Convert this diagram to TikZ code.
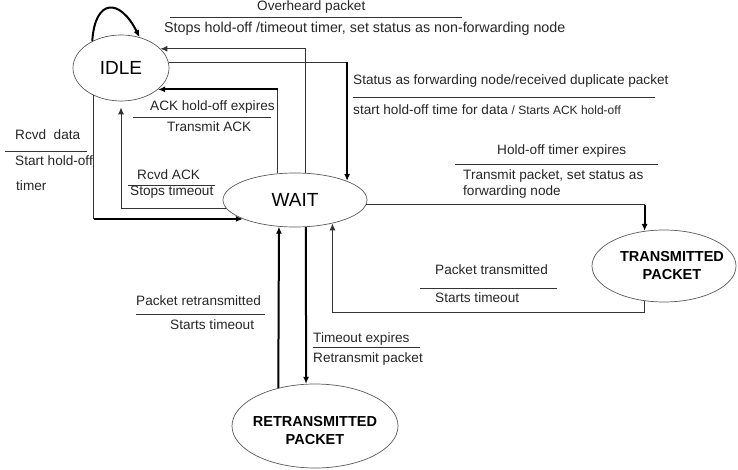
\documentclass[tikz,border=0pt]{standalone}
\usepackage{fontspec}
\setmainfont{Liberation Sans}
\usetikzlibrary{shapes.geometric,arrows.meta}

\tikzset{
  state/.style={draw=black!65, line width=0.7pt, ellipse, inner sep=0pt},
  statetext/.style={align=center, font=\bfseries\fontsize{14.5}{18}\selectfont},
  lbl/.style={anchor=mid west, inner sep=0pt, text=black!85, font=\fontsize{13.6}{15}\selectfont},
  tip/.style={-{Latex[length=7pt,width=6pt]}},
  fine/.style={line width=1pt, black!80},
  bold/.style={line width=2pt},
  bar/.style={line width=0.8pt, black!80},
}

\begin{document}
\begin{tikzpicture}[x=1pt,y=-1pt]
\useasboundingbox (0,0) rectangle (738,470);

% states
\node[state, minimum width=96pt, minimum height=66pt] (idle) at (121,68) {\fontsize{19}{20}\selectfont IDLE};
\node[state, minimum width=144pt, minimum height=54pt] (wait) at (295,200) {\fontsize{19}{20}\selectfont WAIT};
\node[state, minimum width=144pt, minimum height=72pt,
      label={[statetext, xshift=8pt]center:TRANSMITTED\\PACKET}] (trans) at (664,266) {};
\node[state, minimum width=166pt, minimum height=84pt,
      label={[statetext, yshift=-5pt]center:RETRANSMITTED\\PACKET}] (retrans) at (315,426) {};

% idle <-> wait
\draw[bold, tip] (idle.137) .. controls (95,-2) and (120,-2) .. (idle.59);
\draw[fine, tip] (wait.68) |- (idle.26);
\coordinate (c1) at (idle.7 -| wait.20);
\draw[fine] (idle.7) -- (c1);
\draw[bold, tip] (c1) -- (wait.20);
\coordinate (c2) at (wait.123 |- idle.-30);
\draw[fine] (wait.123) -- (c2);
\draw[bold, tip] (c2) -- (idle.-30);
\coordinate (c3) at (idle.225 |- wait.200);
\draw[fine] (idle.225) -- (c3);
\draw[bold, tip] (c3) -- (wait.200);
\draw[fine, tip, shorten >=6pt] (wait.187) -| (idle.south);

% wait <-> transmitted
\coordinate (c4) at (wait.-4 -| trans.119);
\draw[fine] (wait.-4) -- (c4);
\draw[bold, tip] (c4) -- (trans.119);
\draw[fine, tip] (trans.241) -- ++(0,11) -| (wait.-32);

% wait <-> retransmitted
\draw[bold, tip] (retrans.134) -- (wait.239);
\draw[bold, tip] (wait.-68) -- (retrans.102);

% labels
\node[lbl] (l1) at (257,8) {Overheard packet};
\draw[bar] (170,17) -- (462,17);
\node[lbl, font=\fontsize{14.3}{15}\selectfont] (l2) at (164,30) {Stops hold-off /timeout timer, set status as non-forwarding node};

\node[lbl] (l3) at (353,82) {Status as forwarding node/received duplicate packet};
\draw[bar] (353,97) -- (655,97);
\node[lbl] (l4) at (353,112) {start hold-off time for data \fontsize{12}{13}\selectfont/ Starts ACK hold-off};

\node[lbl] (l5) at (150,108) {ACK hold-off expires};
\draw[bar] (133,117) -- (271,117);
\node[lbl] (l6) at (167,129) {Transmit ACK};

\node[lbl] (l7) at (137,177) {Rcvd ACK};
\draw[bar] (128,185) -- (215,185);
\node[lbl] (l8) at (130,193) {Stops timeout};

\node[lbl] (l9) at (15,137) {Rcvd\ \ data};
\draw[bar] (5,151) -- (87,151);
\node[lbl] (l10) at (15,163) {Start hold-off};
\node[lbl] (l11) at (16,188) {timer};

\node[lbl] (l12) at (497,152) {Hold-off timer expires};
\draw[bar] (455,164) -- (658,164);
\node[lbl] (l13) at (463,177) {Transmit packet, set status as};
\node[lbl] (l14) at (463,193) {forwarding node};

\node[lbl] (l15) at (435,272) {Packet transmitted};
\draw[bar] (420,288) -- (557,288);
\node[lbl] (l16) at (435,300) {Starts timeout};

\node[lbl] (l17) at (136,303) {Packet retransmitted};
\draw[bar] (136,314) -- (265,314);
\node[lbl] (l18) at (170,327) {Starts timeout};

\node[lbl] (l19) at (313,340) {Timeout expires};
\draw[bar] (313,347) -- (420,347);
\node[lbl] (l20) at (313,360) {Retransmit packet};
\end{tikzpicture}
\end{document}
